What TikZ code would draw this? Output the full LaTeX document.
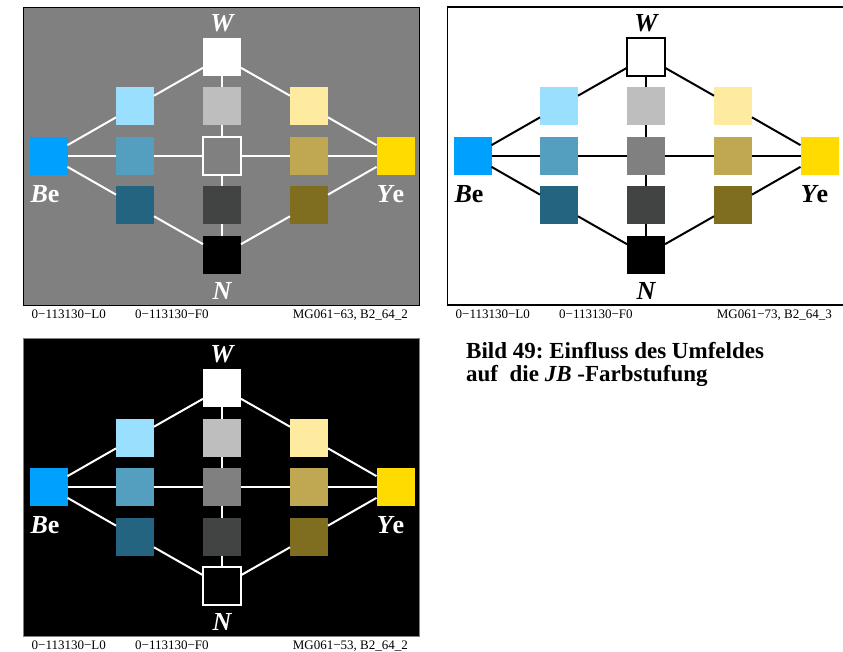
\documentclass[tikz,border=0pt]{standalone}
\usepackage{fontspec}
\setmainfont{Liberation Serif}
\usetikzlibrary{positioning}
\frenchspacing

\definecolor{bgGray}{RGB}{128,128,128}
\definecolor{blueE}{RGB}{0,160,255}
\definecolor{blueL}{RGB}{155,223,255}
\definecolor{blueM}{RGB}{84,158,192}
\definecolor{blueD}{RGB}{36,100,128}
\definecolor{grayL}{RGB}{190,190,190}
\definecolor{grayM}{RGB}{128,128,128}
\definecolor{grayD}{RGB}{66,67,67}
\definecolor{yelE}{RGB}{255,219,0}
\definecolor{yelL}{RGB}{255,235,160}
\definecolor{yelM}{RGB}{192,168,82}
\definecolor{yelD}{RGB}{128,110,32}

\begin{document}
\begin{tikzpicture}[x=1pt,y=-1pt,line cap=butt,line join=miter]
  \tikzset{sq/.style={minimum size=38pt,inner sep=0pt,outer sep=0pt},
    lab/.style={inner sep=0pt,font=\fontsize{26}{26}\selectfont\bfseries\itshape},
    foot/.style={inner sep=0pt,font=\fontsize{13}{13}\selectfont},
    link/.style={line width=2pt}}

  \path[use as bounding box] (0,0) rectangle (843,652);

  \foreach \pn/\dx/\dy/\bg/\fr/\fw/\ln/\hl/\mg in {g/0/0/bgGray/black/0.8/white/gm/{MG061−63, B2\_64\_2},w/424/0/white/black/1.6/black/W/{MG061−73, B2\_64\_3},k/0/331/black/gray/0.8/white/N/{MG061−53, B2\_64\_2}} {
    \begin{scope}[shift={(\dx,\dy)}]
      \draw[fill=\bg,draw=\fr,line width=\fw pt] (23.5,7) rectangle (419.5,305);

      \node[sq,fill=white] (\pn W) at (222,57) {};
      \node[sq,fill=blueL] (\pn bl) at (135,106.5) {};
      \node[sq,fill=grayL] (\pn gl) at (222,106.5) {};
      \node[sq,fill=yelL] (\pn yl) at (309,106.5) {};
      \node[sq,fill=blueE] (\pn Be) at (48.5,156) {};
      \node[sq,fill=blueM] (\pn bm) at (135,156) {};
      \node[sq,fill=grayM] (\pn gm) at (222,156) {};
      \node[sq,fill=yelM] (\pn ym) at (309,156) {};
      \node[sq,fill=yelE] (\pn Ye) at (395.5,156) {};
      \node[sq,fill=blueD] (\pn bd) at (135,205.5) {};
      \node[sq,fill=grayD] (\pn gd) at (222,205.5) {};
      \node[sq,fill=yelD] (\pn yd) at (309,205.5) {};
      \node[sq,fill=black] (\pn N) at (222,255) {};

      \draw[link,\ln] (\pn Be) -- (\pn bl) -- (\pn W) -- (\pn yl) -- (\pn Ye)
        -- (\pn yd) -- (\pn N) -- (\pn bd) -- (\pn Be);
      \draw[link,\ln] (\pn Be) -- (\pn bm) -- (\pn gm) -- (\pn ym) -- (\pn Ye);
      \draw[link,\ln] (\pn W) -- (\pn gl) -- (\pn gm) -- (\pn gd) -- (\pn N);
      % square in the colour of the surround
      \draw[\ln,line width=1.5pt] (\pn\hl.south west) rectangle (\pn\hl.north east);

      \node[lab,text=\ln,above=6pt of \pn W] (\pn Wl) {W};
      \node[lab,text=\ln,below=8pt of \pn N] (\pn Nl) {N};
      \node[lab,text=\ln,below=10pt of \pn Be,xshift=-3.5pt] (\pn Bel) {B\upshape e};
      \node[lab,text=\ln,below=10pt of \pn Ye,xshift=-5pt] (\pn Yel) {Y\upshape e};

      \node[foot,anchor=base west] (\pn fl) at (31.5,318) {0−113130−L0};
      \node[foot,anchor=base west] (\pn ff) at (135,318) {0−113130−F0};
      \node[foot,anchor=base east] (\pn fm) at (408,318) {\mg};
    \end{scope}
  }

  \node[anchor=base west,inner sep=0pt,font=\fontsize{23}{23}\selectfont\bfseries]
    (cap1) at (466,358) {Bild 49: Einfluss des Umfeldes};
  \node[anchor=base west,inner sep=0pt,font=\fontsize{23}{23}\selectfont\bfseries]
    (cap2) at (466,381) {auf\ \ die \textit{JB} -Farbstufung};
\end{tikzpicture}
\end{document}
